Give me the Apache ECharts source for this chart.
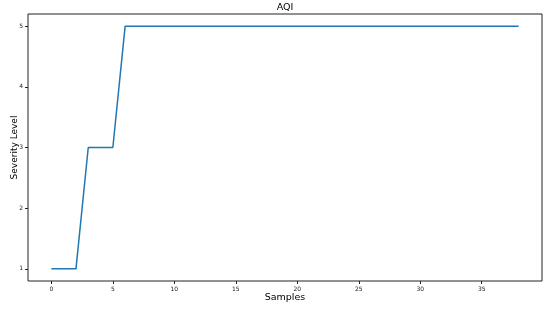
<!DOCTYPE html>
<html>
<head>
<meta charset="utf-8">
<script src="https://cdn.jsdelivr.net/npm/echarts@6/dist/echarts.min.js"></script>
<style>html,body{margin:0;padding:0;background:#fff}#c{width:550px;height:309px}</style>
</head>
<body>
<div id="c"></div>
<script>
const samples = [0,1,2,3,4,5,6,7,8,9,10,11,12,13,14,15,16,17,18,19,20,21,22,23,24,25,26,27,28,29,30,31,32,33,34,35,36,37,38];
const severity = [1,1,1,3,3,3,5,5,5,5,5,5,5,5,5,5,5,5,5,5,5,5,5,5,5,5,5,5,5,5,5,5,5,5,5,5,5,5,5];
const xTicks = [0,5,10,15,20,25,30,35];
const yTicks = [1,2,3,4,5];

const chart = echarts.init(document.getElementById('c'), null, {renderer:'canvas'});
const font = 'DejaVu Sans';
chart.setOption({
  animation:false,
  title:{text:'AQI', left:285, top:3, padding:0, textAlign:'center',
    textStyle:{fontFamily:font, fontSize:9.5, fontWeight:'normal', color:'#000'}},
  grid:{left:28, right:8, top:14, bottom:28, show:true, borderColor:'#222', borderWidth:1,
    backgroundColor:'#fff', containLabel:false, outerBoundsMode:'none'},
  xAxis:{type:'value', min:-1.9, max:39.9, name:'Samples', nameLocation:'middle', nameGap:12,
    nameMoveOverlap:false,
    nameTextStyle:{fontFamily:font, fontSize:9.5, color:'#000'},
    axisLine:{show:false, onZero:false}, splitLine:{show:false},
    axisTick:{show:true, length:3, customValues:xTicks, lineStyle:{color:'#222'}},
    axisLabel:{customValues:xTicks, fontFamily:font, fontSize:6, color:'#222', margin:5}},
  yAxis:{type:'value', min:0.8, max:5.2, name:'Severity Level', nameLocation:'middle', nameGap:9,
    nameMoveOverlap:false,
    nameTextStyle:{fontFamily:font, fontSize:9, color:'#000'},
    axisLine:{show:false, onZero:false}, splitLine:{show:false},
    axisTick:{show:true, length:3, customValues:yTicks, lineStyle:{color:'#222'}},
    axisLabel:{customValues:yTicks, fontFamily:font, fontSize:6, color:'#222', margin:5}},
  series:[{type:'line', data:samples.map((x,i)=>[x, severity[i]]), showSymbol:false,
    lineStyle:{color:'#1f77b4', width:1.5}}]
});
</script>
</body>
</html>
